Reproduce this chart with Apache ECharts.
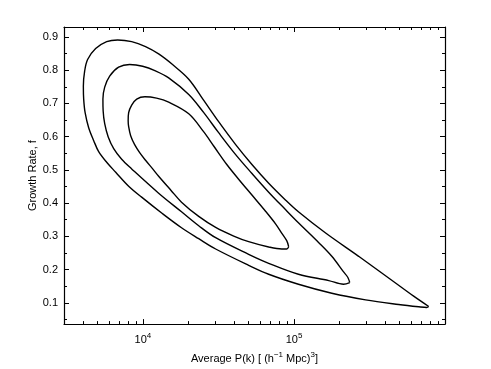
<!DOCTYPE html>
<html>
<head>
<meta charset="utf-8">
<script src="https://cdn.jsdelivr.net/npm/echarts@6/dist/echarts.min.js"></script>
<style>
html, body { margin: 0; padding: 0; background: #fff; }
#chart { width: 491px; height: 369px; }
</style>
</head>
<body>
<div id="chart"></div>
<script>
// contour lines, P(k) on the log x axis, f on the y axis
// each one starts at its right-hand tip and goes round counter-clockwise
const outerP = [7.80e5, 6.20e5, 4.44e5, 2.68e5, 1.62e5, 1.07e5, 8.81e4, 6.80e4, 5.25e4, 4.11e4,
  3.17e4, 2.52e4, 2.01e4, 1.57e4, 1.27e4, 1.04e4, 8420, 6800, 5750, 4860,
  4300, 4110, 4030, 4050, 4140, 4370, 4720, 5090, 5750, 6600,
  8040, 9800, 1.35e4, 1.80e4, 2.34e4, 3.03e4, 5.01e4, 6.80e4, 1.07e5, 1.78e5,
  2.98e5, 4.93e5, 6.70e5, 7.57e5]
const outerF = [0.089, 0.120, 0.168, 0.240, 0.310, 0.374, 0.409, 0.460, 0.517, 0.576,
  0.645, 0.710, 0.773, 0.817, 0.849, 0.871, 0.886, 0.891, 0.886, 0.865,
  0.832, 0.797, 0.752, 0.713, 0.672, 0.627, 0.588, 0.555, 0.523, 0.493,
  0.451, 0.418, 0.368, 0.326, 0.293, 0.262, 0.213, 0.186, 0.156, 0.129,
  0.109, 0.095, 0.088, 0.086]

const middleP = [2.34e5, 2.27e5, 2.13e5, 1.78e5, 1.46e5, 1.07e5, 8.81e4, 6.80e4, 5.25e4, 4.11e4,
  3.17e4, 2.52e4, 2.01e4, 1.48e4, 1.21e4, 9950, 8160, 6900, 6020, 5580,
  5430, 5450, 5580, 5880, 6400, 7230, 8420, 1.27e4, 1.80e4, 2.34e4,
  3.03e4, 5.01e4, 6.80e4, 1.07e5, 1.70e5, 2.13e5]
const middleF = [0.161, 0.177, 0.193, 0.240, 0.281, 0.341, 0.380, 0.433, 0.490, 0.546,
  0.612, 0.673, 0.727, 0.777, 0.798, 0.812, 0.817, 0.809, 0.782, 0.749,
  0.713, 0.677, 0.639, 0.600, 0.564, 0.532, 0.503, 0.430, 0.374, 0.332,
  0.296, 0.246, 0.219, 0.186, 0.167, 0.156]

const innerP = [9.22e4, 8.95e4, 8.29e4, 7.57e4, 6.50e4, 5.25e4, 4.30e4, 3.58e4, 2.94e4, 2.52e4,
  2.01e4, 1.48e4, 1.23e4, 1.03e4, 9090, 8420, 8040, 7980, 8040, 8290,
  8810, 9510, 1.04e4, 1.16e4, 1.27e4, 1.53e4, 1.80e4, 2.34e4, 3.03e4, 3.99e4,
  5.01e4, 6.80e4, 8.29e4, 8.95e4]
const innerF = [0.269, 0.287, 0.310, 0.337, 0.375, 0.425, 0.472, 0.517, 0.572, 0.615,
  0.669, 0.704, 0.716, 0.720, 0.713, 0.695, 0.672, 0.648, 0.630, 0.603,
  0.576, 0.552, 0.529, 0.503, 0.481, 0.439, 0.403, 0.360, 0.327, 0.301,
  0.284, 0.268, 0.262, 0.262]

const xMajor = [1e4, 1e5]
const xMinor = [4000, 5000, 6000, 7000, 8000, 9000,
  2e4, 3e4, 4e4, 5e4, 6e4, 7e4, 8e4, 9e4,
  2e5, 3e5, 4e5, 5e5, 6e5, 7e5, 8e5, 9e5]
const yMajor = [0.1, 0.2, 0.3, 0.4, 0.5, 0.6, 0.7, 0.8, 0.9]
const yMinor = [0.05, 0.15, 0.25, 0.35, 0.45, 0.55, 0.65, 0.75, 0.85]

function closed (xs, ys) {
  const pts = xs.map((x, i) => [x, ys[i]])
  pts.push(pts[0])
  return pts
}

const chart = echarts.init(document.getElementById('chart'))

const font = 'Liberation Sans, Arial, sans-serif'
const frame = { show: true, lineStyle: { color: '#000', width: 1.2 } }
const noLine = { show: false }

function xAxis (position, ticks, len, withLabels) {
  return {
    type: 'log',
    position: position,
    min: 3000,
    max: 1e6,
    axisLine: withLabels !== null ? frame : noLine,
    axisTick: { inside: true, length: len, customValues: ticks, lineStyle: { color: '#000', width: 1 } },
    axisLabel: withLabels
      ? {
          customValues: xMajor,
          margin: 8,
          color: '#000',
          fontFamily: font,
          fontSize: 11,
          formatter: v => '10{sup|' + Math.round(Math.log10(v)) + '}',
          rich: { sup: { fontSize: 8, fontFamily: font, color: '#000', padding: [0, 0, 8, 0] } }
        }
      : { show: false },
    splitLine: { show: false }
  }
}

function yAxis (position, ticks, len, withLabels) {
  return {
    type: 'value',
    position: position,
    min: 0.036,
    max: 0.93,
    axisLine: withLabels !== null ? frame : noLine,
    axisTick: { inside: true, length: len, customValues: ticks, lineStyle: { color: '#000', width: 1 } },
    axisLabel: withLabels
      ? { customValues: yMajor, margin: 6, color: '#000', fontFamily: font, fontSize: 11, formatter: v => v.toFixed(1) }
      : { show: false },
    splitLine: { show: false }
  }
}

const xs = [
  xAxis('bottom', xMajor, 5, true),
  xAxis('bottom', xMinor, 3, null),
  xAxis('top', xMajor, 5, false),
  xAxis('top', xMinor, 3, null)
]
xs[0].name = 'Average P(k) [ (h{sup|−1} Mpc){sup|3}]'
xs[0].nameLocation = 'middle'
xs[0].nameGap = 26
xs[0].nameTextStyle = {
  color: '#000',
  fontFamily: font,
  fontSize: 11,
  rich: { sup: { fontSize: 8, fontFamily: font, color: '#000', padding: [0, 0, 8, 0] } }
}

const ys = [
  yAxis('left', yMajor, 5, true),
  yAxis('left', yMinor, 3, null),
  yAxis('right', yMajor, 5, false),
  yAxis('right', yMinor, 3, null)
]
ys[0].name = 'Growth Rate, f'
ys[0].nameLocation = 'middle'
ys[0].nameGap = 26
ys[0].nameRotate = 90
ys[0].nameMoveOverlap = false
ys[0].nameTextStyle = { color: '#000', fontFamily: font, fontSize: 11 }

const contour = (name, pts) => ({
  name: name,
  type: 'line',
  data: pts,
  smooth: 0.35,
  showSymbol: false,
  symbol: 'none',
  lineStyle: { color: '#000', width: 1.4 }
})

chart.setOption({
  animation: false,
  backgroundColor: '#fff',
  grid: { left: 64, right: 46, top: 27, bottom: 42 },
  xAxis: xs,
  yAxis: ys,
  series: [
    contour('outer', closed(outerP, outerF)),
    contour('middle', closed(middleP, middleF)),
    contour('inner', closed(innerP, innerF))
  ]
})
</script>
</body>
</html>
